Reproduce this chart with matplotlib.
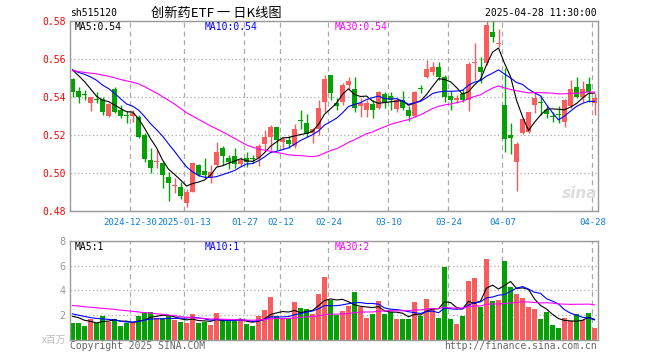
import numpy as np
import pandas as pd
import matplotlib
matplotlib.use("Agg")
import matplotlib.pyplot as plt

# daily bars 2024-12-16 .. 2025-04-28 (88 trading days)
opens = [0.5496, 0.5433, 0.5418, 0.5368, 0.5388, 0.5389, 0.5302, 0.5444, 0.5333, 0.5303,
         0.5302, 0.5295, 0.5202, 0.5070, 0.5060, 0.5056, 0.4982, 0.4932, 0.4930, 0.4842,
         0.4902, 0.5044, 0.5012, 0.4979, 0.5044, 0.5135, 0.5082, 0.5091, 0.5047, 0.5082,
         0.5079, 0.5079, 0.5154, 0.5189, 0.5242, 0.5167, 0.5175, 0.5144, 0.5279, 0.5263,
         0.5214, 0.5232, 0.5377, 0.5518, 0.5368, 0.5377, 0.5465, 0.5444, 0.5356, 0.5333,
         0.5365, 0.5346, 0.5416, 0.5407, 0.5339, 0.5386, 0.5333, 0.5304, 0.5448, 0.5509,
         0.5532, 0.5561, 0.5509, 0.5407, 0.5386, 0.5418, 0.5386, 0.5580, 0.5561, 0.5579,
         0.5746, 0.5680, 0.5362, 0.5201, 0.5061, 0.5210, 0.5216, 0.5362, 0.5375, 0.5333,
         0.5300, 0.5309, 0.5268, 0.5355, 0.5456, 0.5403, 0.5468, 0.5368]
highs = [0.5500, 0.5456, 0.5439, 0.5400, 0.5426, 0.5400, 0.5372, 0.5453, 0.5360, 0.5330,
         0.5333, 0.5307, 0.5211, 0.5132, 0.5123, 0.5061, 0.5009, 0.4974, 0.4956, 0.4916,
         0.5061, 0.5050, 0.5079, 0.5044, 0.5167, 0.5144, 0.5096, 0.5132, 0.5088, 0.5111,
         0.5096, 0.5154, 0.5228, 0.5254, 0.5244, 0.5193, 0.5196, 0.5260, 0.5333, 0.5312,
         0.5237, 0.5386, 0.5518, 0.5520, 0.5395, 0.5474, 0.5509, 0.5509, 0.5395, 0.5386,
         0.5386, 0.5433, 0.5426, 0.5426, 0.5395, 0.5433, 0.5356, 0.5433, 0.5465, 0.5596,
         0.5588, 0.5588, 0.5518, 0.5433, 0.5412, 0.5444, 0.5588, 0.5684, 0.5614, 0.5800,
         0.5800, 0.5760, 0.5553, 0.5266, 0.5167, 0.5290, 0.5325, 0.5426, 0.5407, 0.5360,
         0.5324, 0.5356, 0.5393, 0.5491, 0.5509, 0.5486, 0.5509, 0.5421]
lows = [0.5404, 0.5372, 0.5386, 0.5330, 0.5368, 0.5307, 0.5295, 0.5319, 0.5289, 0.5263,
        0.5272, 0.5184, 0.5061, 0.5000, 0.5026, 0.4925, 0.4856, 0.4898, 0.4863, 0.4825,
        0.4902, 0.4985, 0.4974, 0.4947, 0.5039, 0.5044, 0.5021, 0.5026, 0.5035, 0.5035,
        0.5053, 0.5039, 0.5123, 0.5123, 0.5123, 0.5126, 0.5132, 0.5132, 0.5232, 0.5193,
        0.5161, 0.5202, 0.5325, 0.5386, 0.5333, 0.5360, 0.5439, 0.5321, 0.5298, 0.5298,
        0.5293, 0.5339, 0.5342, 0.5333, 0.5325, 0.5333, 0.5275, 0.5298, 0.5421, 0.5500,
        0.5518, 0.5491, 0.5377, 0.5333, 0.5368, 0.5374, 0.5328, 0.5491, 0.5474, 0.5570,
        0.5693, 0.5666, 0.5114, 0.5100, 0.4908, 0.5208, 0.5210, 0.5320, 0.5307, 0.5290,
        0.5271, 0.5263, 0.5245, 0.5342, 0.5395, 0.5374, 0.5374, 0.5305]
closes = [0.5430, 0.5400, 0.5413, 0.5400, 0.5385, 0.5325, 0.5365, 0.5325, 0.5304, 0.5302,
          0.5316, 0.5193, 0.5074, 0.5026, 0.5065, 0.4991, 0.4951, 0.4937, 0.4882, 0.4904,
          0.5056, 0.4991, 0.4991, 0.5009, 0.5114, 0.5093, 0.5058, 0.5047, 0.5070, 0.5061,
          0.5077, 0.5144, 0.5189, 0.5242, 0.5175, 0.5181, 0.5154, 0.5232, 0.5277, 0.5207,
          0.5232, 0.5342, 0.5496, 0.5421, 0.5356, 0.5465, 0.5486, 0.5346, 0.5368, 0.5368,
          0.5333, 0.5426, 0.5368, 0.5386, 0.5386, 0.5346, 0.5304, 0.5426, 0.5446, 0.5549,
          0.5561, 0.5509, 0.5404, 0.5386, 0.5398, 0.5386, 0.5574, 0.5584, 0.5532, 0.5780,
          0.5717, 0.5684, 0.5181, 0.5184, 0.5156, 0.5286, 0.5320, 0.5397, 0.5371, 0.5311,
          0.5298, 0.5307, 0.5384, 0.5444, 0.5403, 0.5444, 0.5426, 0.5398]
# volume, millions
volumes = [1.35, 1.35, 1.14, 1.68, 1.35, 1.95, 1.49, 1.68, 1.14, 1.35,
           1.35, 1.95, 2.24, 2.24, 1.76, 1.76, 1.95, 1.62, 1.43, 1.35,
           2.08, 1.35, 1.49, 1.22, 2.16, 1.54, 1.54, 1.54, 1.68, 1.27,
           1.14, 1.95, 2.43, 3.45, 1.95, 1.68, 1.76, 3.05, 2.56, 2.48,
           2.08, 3.69, 5.06, 3.26, 2.02, 2.35, 2.70, 3.85, 2.65, 1.76,
           2.08, 3.13, 2.08, 2.24, 1.68, 1.68, 1.68, 3.05, 1.97, 3.29,
           2.51, 1.76, 5.86, 1.68, 1.27, 1.97, 4.78, 4.99, 2.65, 6.51,
           3.16, 3.24, 6.38, 4.31, 3.69, 3.37, 2.65, 2.51, 1.70, 2.24,
           1.22, 0.95, 1.76, 1.54, 2.08, 1.62, 2.16, 0.95]
# estimated sessions before the visible window (only feed the moving averages)
prev_close = [0.553, 0.556, 0.551, 0.549, 0.552, 0.555, 0.558, 0.556, 0.553, 0.550,
              0.548, 0.551, 0.554, 0.557, 0.555, 0.552, 0.554, 0.557, 0.559, 0.556,
              0.553, 0.551, 0.554, 0.556, 0.558, 0.555, 0.557, 0.559, 0.558]
prev_vol = [2.6, 3.1, 2.8, 2.5, 3.3, 2.9, 2.7, 3.2, 2.6, 3.0,
            3.4, 3.9, 3.2, 3.6, 3.0, 3.8, 3.3, 3.5, 2.9, 3.1,
            2.4, 2.2, 2.6, 2.0, 2.3, 1.9, 2.2, 2.1, 2.0]

tick_idx = [10, 19, 29, 35, 43, 53, 63, 72, 87]
tick_labels = ["2024-12-30", "2025-01-13", "01-27", "02-12", "02-24",
               "03-10", "03-24", "04-07", "04-28"]

RED = "#f85c5c"
GREEN = "#05a005"
GRID = "#aaaaaa"
MONO = "DejaVu Sans Mono"
CJK = ["Noto Sans CJK SC", "DejaVu Sans"]
FS = 7

n = len(closes)
x = np.arange(n)
o = np.array(opens); c = np.array(closes)
cols = [RED if c[i] >= o[i] else GREEN for i in range(n)]

cs = pd.Series(prev_close + closes)
vs = pd.Series(prev_vol + volumes)
k = len(prev_close)
ma = {m: cs.rolling(m).mean().values[k:] for m in (5, 10, 30)}
vma = {m: vs.rolling(m).mean().values[k:] for m in (5, 10, 30)}


def px(xp, yp):
    return xp / 660, 1 - yp / 360


fig = plt.figure(figsize=(6.6, 3.6), dpi=100)
ax = fig.add_axes([70 / 660, 1 - 211.3 / 360, 528 / 660, 190 / 360])
axv = fig.add_axes([70 / 660, 1 - 340 / 360, 528 / 660, 99.3 / 360])

xlim = (-0.42, n - 0.42)
grid_x = [t - 0.35 for t in tick_idx]

for a in (ax, axv):
    a.set_xlim(*xlim)
    for s in a.spines.values():
        s.set_color("#999999")
        s.set_linewidth(1)
    a.set_xticks(grid_x)
    a.xaxis.grid(True, color=GRID, linestyle=(0, (4, 3)), linewidth=0.9)
    a.yaxis.grid(True, color=GRID, linestyle=(0, (1, 2)), linewidth=0.9)
    a.set_axisbelow(True)
    a.tick_params(length=0)

# candles
ax.vlines(x, lows, highs, colors=cols, linewidth=1)
body = np.maximum(np.abs(c - o), 0.0005)
ax.bar(x, body, bottom=np.minimum(o, c), width=0.78, color=cols, linewidth=0)
ax.plot(x, ma[5], color="black", lw=0.8)
ax.plot(x, ma[10], color="#0000ff", lw=0.8)
ax.plot(x, ma[30], color="#ff00ff", lw=0.8)
ax.set_ylim(0.48, 0.58)
yt = [0.48, 0.50, 0.52, 0.54, 0.56, 0.58]
ax.set_yticks(yt)
ax.set_yticklabels([f"{v:.2f}" for v in yt], color="red", family=MONO, fontsize=FS)
ax.set_xticklabels(tick_labels, color="#0a7fd8", family=MONO, fontsize=6.5)
ax.tick_params(axis="y", pad=3)
ax.tick_params(axis="x", pad=5)

# volume
axv.bar(x, volumes, width=0.78, color=cols, linewidth=0)
axv.plot(x, vma[5], color="black", lw=0.8)
axv.plot(x, vma[10], color="#0000ff", lw=0.8)
axv.plot(x, vma[30], color="#ff00ff", lw=0.8)
axv.set_ylim(0, 8)
axv.set_yticks([0, 2, 4, 6, 8])
axv.set_yticklabels(["", "2", "4", "6", "8"], color="#999999", fontsize=FS)
axv.set_xticklabels([])
axv.tick_params(axis="y", pad=3)

# header
fig.text(*px(70, 13), "sh515120", family=MONO, fontsize=FS, va="center", ha="left")
fig.text(*px(216, 13), "创新药ETF 一 日K线图", family=CJK, fontsize=9.5, va="center", ha="center")
fig.text(*px(597, 13), "2025-04-28 11:30:00", family=MONO, fontsize=FS, va="center", ha="right")

# MA legends
fig.text(*px(75, 27), f"MA5:{ma[5][-1]:.2f}", family=MONO, fontsize=FS, va="center", color="black")
fig.text(*px(205, 27), f"MA10:{ma[10][-1]:.2f}", family=MONO, fontsize=FS, va="center", color="#0000ff")
fig.text(*px(335, 27), f"MA30:{ma[30][-1]:.2f}", family=MONO, fontsize=FS, va="center", color="#ff00ff")
fig.text(*px(75, 247), f"MA5:{int(vma[5][-1])}", family=MONO, fontsize=FS, va="center", color="black")
fig.text(*px(205, 247), f"MA10:{int(vma[10][-1])}", family=MONO, fontsize=FS, va="center", color="#0000ff")
fig.text(*px(335, 247), f"MA30:{int(vma[30][-1])}", family=MONO, fontsize=FS, va="center", color="#ff00ff")

fig.text(*px(66, 340), "x百万", family=CJK, fontsize=FS, va="center", ha="right", color="#bbbbbb")
fig.text(*px(70, 346), "Copyright 2025 SINA.COM", family=MONO, fontsize=FS, va="center", ha="left", color="#666666")
fig.text(*px(597, 346), "http://finance.sina.com.cn", family=MONO, fontsize=FS, va="center", ha="right", color="#666666")
fig.text(*px(580, 194), "sina", fontsize=11, weight="bold", style="italic", color="#dddddd",
         va="center", ha="center")

fig.savefig("out.png", dpi=100)
